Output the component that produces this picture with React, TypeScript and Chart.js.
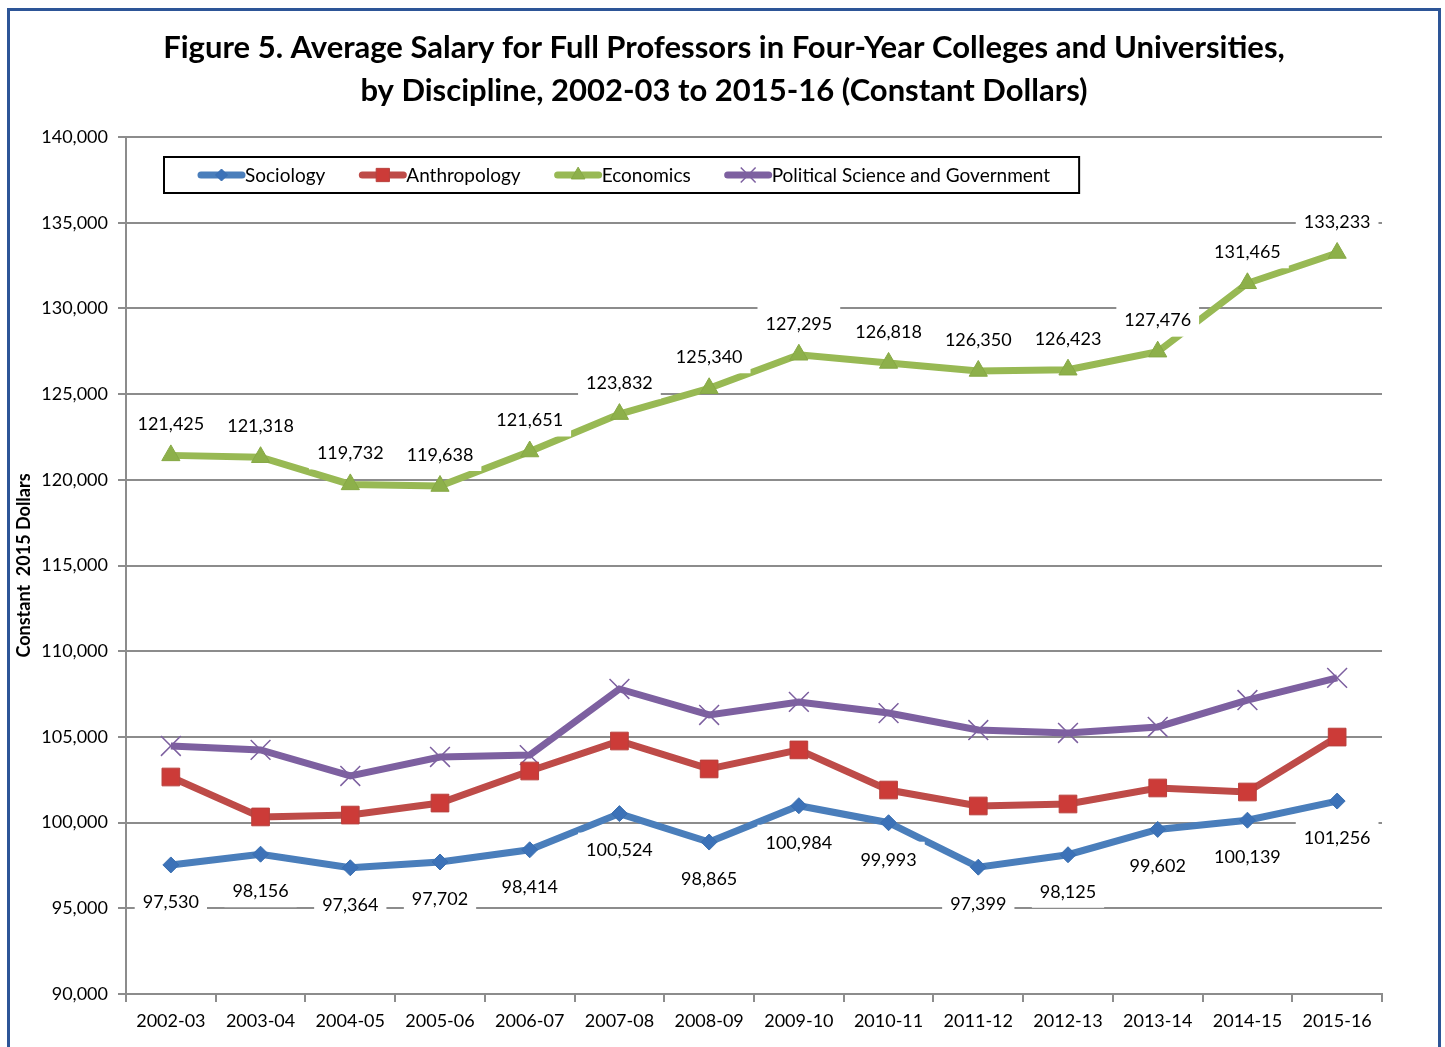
import React, { useEffect, useRef } from 'react';
import { Chart, registerables } from 'chart.js';
import { drawPoint } from 'chart.js/helpers';

Chart.register(...registerables);

const categories = [
  '2002-03', '2003-04', '2004-05', '2005-06', '2006-07', '2007-08', '2008-09',
  '2009-10', '2010-11', '2011-12', '2012-13', '2013-14', '2014-15', '2015-16',
];

const sociology = [97530, 98156, 97364, 97702, 98414, 100524, 98865, 100984, 99993, 97399, 98125, 99602, 100139, 101256];
const anthropology = [102660, 100330, 100440, 101140, 103010, 104760, 103130, 104240, 101900, 100970, 101085, 102020, 101785, 104990];
const economics = [121425, 121318, 119732, 119638, 121651, 123832, 125340, 127295, 126818, 126350, 126423, 127476, 131465, 133233];
const politicalScience = [104470, 104240, 102720, 103830, 103940, 107795, 106280, 107040, 106390, 105400, 105230, 105580, 107150, 108440];

const seriesNames = ['Sociology', 'Anthropology', 'Economics', 'Political Science and Government'];
const yMin = 90000;
const yMax = 140000;
const yStep = 5000;

const titleLines = [
  'Figure 5. Average Salary for Full Professors in Four-Year Colleges and Universities,',
  'by Discipline, 2002-03 to 2015-16 (Constant Dollars)',
];
const yAxisTitle = 'Constant  2015 Dollars';

const FONT = 'Lato, "Open Sans", sans-serif';

const fmt = (v: number) => v.toLocaleString('en-US');

const dataLabelPlugin = {
  id: 'dataLabels',
  afterDatasetsDraw(chart: any) {
    const ctx = chart.ctx;
    ctx.save();
    ctx.font = `18px ${FONT}`;
    ctx.textAlign = 'center';
    ctx.textBaseline = 'middle';
    chart.data.datasets.forEach((ds: any, i: number) => {
      if (!ds.labelPos) return;
      const meta = chart.getDatasetMeta(i);
      meta.data.forEach((pt: any, j: number) => {
        const text = fmt(ds.data[j]);
        const x = pt.x;
        const y = ds.labelPos === 'above' ? pt.y - 32 : pt.y + 36;
        const w = ctx.measureText(text).width;
        ctx.fillStyle = '#ffffff';
        ctx.fillRect(x - w / 2 - 8, y - 17, w + 16, 34);
        ctx.fillStyle = '#000000';
        ctx.fillText(text, x, y + 1);
      });
    });
    ctx.restore();
  },
};

const boxLegendPlugin = {
  id: 'boxLegend',
  afterDraw(chart: any) {
    const ctx = chart.ctx;
    const area = chart.chartArea;
    const left = area.left + 38;
    const top = area.top + 20;
    const h = 36;
    const lineLen = 47;
    const padL = 34;
    const gap = 34;
    const padR = 29;
    ctx.save();
    ctx.font = `19px ${FONT}`;
    const items = chart.data.datasets.map((ds: any) => ({ ds, tw: ctx.measureText(ds.label).width }));
    let width = padL + padR + gap * (items.length - 1);
    items.forEach((it: any) => { width += lineLen + it.tw; });
    ctx.fillStyle = '#ffffff';
    ctx.fillRect(left, top, width, h);
    ctx.strokeStyle = '#000000';
    ctx.lineWidth = 2;
    ctx.strokeRect(left, top, width, h);
    let x = left + padL;
    const cy = top + h / 2;
    items.forEach(({ ds, tw }: any) => {
      ctx.strokeStyle = ds.borderColor;
      ctx.lineWidth = 7;
      ctx.lineCap = 'round';
      ctx.beginPath();
      ctx.moveTo(x + 3, cy);
      ctx.lineTo(x + lineLen - 3, cy);
      ctx.stroke();
      ctx.fillStyle = ds.pointBackgroundColor;
      ctx.strokeStyle = ds.pointBorderColor;
      ctx.lineWidth = ds.pointBorderWidth;
      ctx.lineCap = 'butt';
      drawPoint(ctx, { pointStyle: ds.pointStyle, radius: ds.pointRadius * 0.75, rotation: 0, borderWidth: ds.pointBorderWidth }, x + lineLen / 2, cy);
      ctx.fillStyle = '#000000';
      ctx.textAlign = 'left';
      ctx.textBaseline = 'middle';
      ctx.fillText(ds.label, x + lineLen, cy + 1);
      x += lineLen + tw + gap;
    });
    ctx.restore();
  },
};

export default function App() {
  const canvasRef = useRef<HTMLCanvasElement | null>(null);

  useEffect(() => {
    if (!canvasRef.current) return;
    const chart = new Chart(canvasRef.current, {
      type: 'line',
      data: {
        labels: categories,
        datasets: [
          {
            label: seriesNames[0],
            data: sociology,
            borderColor: '#4a7ebb',
            borderWidth: 7,
            pointStyle: 'rectRot',
            pointRadius: 8,
            pointBackgroundColor: '#3c72b8',
            pointBorderColor: '#3a6fb0',
            pointBorderWidth: 1,
            labelPos: 'below',
          } as any,
          {
            label: seriesNames[1],
            data: anthropology,
            borderColor: '#be4b48',
            borderWidth: 7,
            pointStyle: 'rect',
            pointRadius: 12.5,
            pointBackgroundColor: '#cc3b38',
            pointBorderColor: '#b8403d',
            pointBorderWidth: 1,
          } as any,
          {
            label: seriesNames[2],
            data: economics,
            borderColor: '#98b954',
            borderWidth: 7,
            pointStyle: 'triangle',
            pointRadius: 10.5,
            pointBackgroundColor: '#8db04a',
            pointBorderColor: '#86a845',
            pointBorderWidth: 1,
            labelPos: 'above',
          } as any,
          {
            label: seriesNames[3],
            data: politicalScience,
            borderColor: '#7d60a0',
            borderWidth: 7,
            pointStyle: 'crossRot',
            pointRadius: 14,
            pointBackgroundColor: '#7d60a0',
            pointBorderColor: '#7d60a0',
            pointBorderWidth: 1.5,
          } as any,
        ],
      },
      options: {
        responsive: false,
        animation: false,
        layout: { padding: 0 },
        plugins: {
          legend: { display: false },
          tooltip: { enabled: false },
          title: {
            display: true,
            text: titleLines,
            color: '#000000',
            font: { family: FONT, size: 31, weight: 'bold', lineHeight: 43 / 31 },
            padding: { top: 15.5, bottom: 24.5 },
          },
        },
        scales: {
          x: {
            offset: true,
            grid: { offset: true, drawOnChartArea: false, drawTicks: true, tickLength: 8, color: '#8c8c8c', lineWidth: 2 },
            border: { display: true, color: '#8c8c8c', width: 2 },
            ticks: { color: '#000000', font: { family: FONT, size: 18 }, padding: 8, maxRotation: 0, autoSkip: false },
            afterFit: (s: any) => { s.height = 57; },
          },
          y: {
            min: yMin,
            max: yMax,
            ticks: {
              stepSize: yStep,
              color: '#000000',
              font: { family: FONT, size: 18 },
              padding: 10,
              callback: (v: any) => fmt(Number(v)),
            },
            grid: { color: '#8c8c8c', lineWidth: 2, tickLength: 8 },
            border: { color: '#8c8c8c', width: 2 },
            title: {
              display: true,
              text: yAxisTitle,
              color: '#000000',
              font: { family: FONT, size: 18, weight: 'bold' },
              padding: { top: 3, bottom: 0 },
            },
            afterFit: (s: any) => { s.width = 116; },
          },
          yRight: {
            position: 'right',
            min: yMin,
            max: yMax,
            display: true,
            grid: { display: false, drawTicks: false },
            border: { display: false },
            ticks: { display: false },
            afterFit: (s: any) => { s.width = 56; },
          },
        },
      } as any,
      plugins: [dataLabelPlugin, boxLegendPlugin],
    });
    return () => chart.destroy();
  }, []);

  return (
    <div
      style={{
        position: 'fixed',
        left: 7,
        top: 8,
        border: '3px solid #2d5597',
        background: '#ffffff',
        width: 1428,
        height: 1044,
      }}
    >
      <canvas ref={canvasRef} width={1428} height={1040} style={{ display: 'block' }} />
    </div>
  );
}
